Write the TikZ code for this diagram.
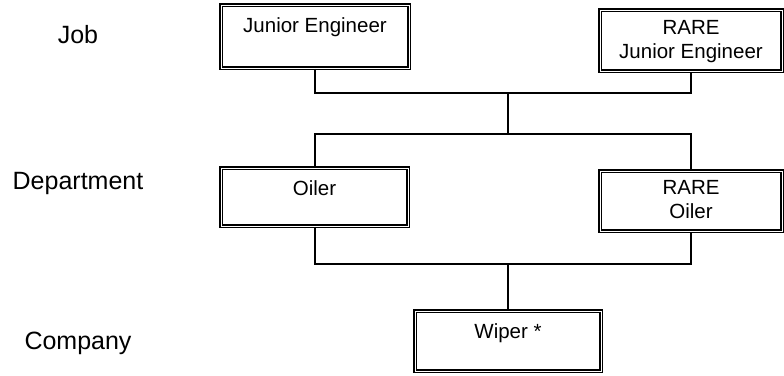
\documentclass[tikz,border=0pt]{standalone}
\usepackage{fontspec}
\setmainfont{Liberation Sans}
\usetikzlibrary{positioning}

\begin{document}
\begin{tikzpicture}[x=1pt,y=-1pt,
    box/.style={draw, line width=1.6pt, double, double distance=0.8pt, inner sep=0pt},
    boxtext/.style={inner sep=0pt, align=center, font=\fontsize{20.5}{24}\selectfont},
    level/.style={inner sep=0pt, font=\fontsize{25}{30}\selectfont},
    wire/.style={line width=2pt}]
    \useasboundingbox (0,0) rectangle (784,375);

    \node[level] (job)  at (78,35)  {Job};
    \node[level] (dept) at (78,183) {Department};
    \node[level] (comp) at (78,343) {Company};

    \node[box, minimum width=188pt, minimum height=63pt] (je)   at (315,36.5) {};
    \node[box, minimum width=182pt, minimum height=61pt] (rje)  at (691,40.5) {};
    \node[box, minimum width=187pt, minimum height=58pt] (oil)  at (314.5,197) {};
    \node[box, minimum width=182pt, minimum height=60pt] (roil) at (691,201) {};
    \node[box, minimum width=186pt, minimum height=60pt] (wip)  at (508,341) {};

    \node[boxtext, below=13pt of je.north]   (jet)   {Junior Engineer};
    \node[boxtext, below=11pt of rje.north]  (rjet)  {RARE\\Junior Engineer};
    \node[boxtext, below=13pt of oil.north]  (oilt)  {Oiler};
    \node[boxtext, below=10pt of roil.north] (roilt) {RARE\\Oiler};
    \node[boxtext, below=13pt of wip.north]  (wipt)  {Wiper *};

    \coordinate (j1) at (508,93);
    \coordinate (j2) at (508,134);
    \coordinate (j3) at (508,264);

    \draw[wire] (je.south) |- (j1) -| (rje.south);
    \draw[wire] (j1) -- (j2);
    \draw[wire] (oil.north) |- (j2) -| (roil.north);
    \draw[wire] (oil.south) |- (j3) -| (roil.south);
    \draw[wire] (j3) -- (wip.north);
\end{tikzpicture}
\end{document}
